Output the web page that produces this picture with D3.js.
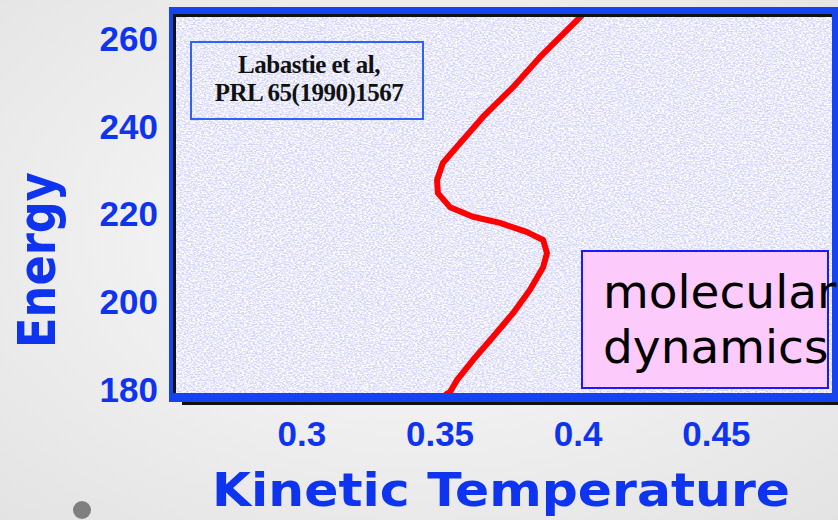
<!DOCTYPE html>
<html><head><meta charset="utf-8">
<script src="https://cdn.jsdelivr.net/npm/d3@7"></script>
<style>html,body{margin:0;padding:0;overflow:hidden;background:#f2f2f2}</style>
</head><body><svg id="c" width="838" height="520"></svg>
<script>
// ---- data ----
const energyTicks = [180, 200, 220, 240, 260];
const tempTicks = [0.3, 0.35, 0.4, 0.45];
const tempTickLabels = ["0.3", "0.35", "0.4", "0.45"];
const energy   = [265.5, 264.4, 260.5, 256.0, 249.1, 242.3, 236.3, 231.8, 227.9, 224.9, 221.7, 219.5, 218.1, 216.0, 214.2, 211.2, 208.0, 202.8, 197.5, 192.1, 186.8, 182.2, 179.5, 179.0];
const kineticT = [0.4015, 0.3998, 0.3936, 0.3864, 0.3766, 0.3657, 0.3574, 0.3512, 0.3491, 0.3494, 0.3538, 0.3621, 0.3719, 0.3817, 0.3875, 0.3889, 0.3875, 0.3827, 0.3766, 0.3694, 0.3621, 0.3563, 0.3538, 0.3525];
const legendLines = ["Labastie et al,", "PRL 65(1990)1567"];
const noteLines = ["molecular", "dynamics"];
const xTitle = "Kinetic Temperature";
const yTitle = "Energy";

// ---- layout ----
const svg = d3.select("#c");
const inner = {x0: 176, x1: 832, y0: 17, y1: 393};
const x = d3.scaleLinear().domain([0.25, 0.5]).range([163.25, 853.95]);
const y = d3.scaleLinear().domain([180, 260]).range([389.8, 39.4]);
const blue = "#1444f2";
const txtBlue = "#0f34f0";

const defs = svg.append("defs");
const rg = defs.append("radialGradient").attr("id", "bg").attr("cx", "50%").attr("cy", "45%").attr("r", "75%");
rg.append("stop").attr("offset", "0%").attr("stop-color", "#fbfbfb");
rg.append("stop").attr("offset", "100%").attr("stop-color", "#e3e3e3");

const f = defs.append("filter").attr("id", "speck").attr("x", 0).attr("y", 0).attr("width", 1).attr("height", 1);
f.append("feTurbulence").attr("type", "fractalNoise").attr("baseFrequency", "0.45 0.7").attr("numOctaves", 2).attr("seed", 7).attr("result", "n");
f.append("feColorMatrix").attr("in", "n").attr("type", "matrix")
  .attr("values", "0 0 0 0 1  0 0 0 0 1  0 0 0 0 1  3 0 0 0 -1.0");

defs.append("clipPath").attr("id", "clip").append("rect")
  .attr("x", inner.x0).attr("y", inner.y0).attr("width", inner.x1 - inner.x0).attr("height", inner.y1 - inner.y0);

svg.append("rect").attr("width", 838).attr("height", 520).attr("fill", "url(#bg)");

// frame
svg.append("rect").attr("x", 169).attr("y", 7).attr("width", 680).attr("height", 395).attr("fill", blue);
svg.append("rect").attr("x", 182).attr("y", 402).attr("width", 660).attr("height", 3).attr("fill", "#111");
svg.append("rect").attr("x", inner.x0).attr("y", inner.y0).attr("width", inner.x1 - inner.x0).attr("height", inner.y1 - inner.y0).attr("fill", "#d3d4f8");
svg.append("rect").attr("x", inner.x0).attr("y", inner.y0).attr("width", inner.x1 - inner.x0).attr("height", inner.y1 - inner.y0).attr("fill", "#fff").attr("filter", "url(#speck)");
svg.append("rect").attr("x", 173).attr("y", 14).attr("width", inner.x1 - 173).attr("height", 3).attr("fill", "#111");
svg.append("rect").attr("x", 173).attr("y", 14).attr("width", 3).attr("height", inner.y1 - 14).attr("fill", "#111");

// legend box
svg.append("rect").attr("x", 191).attr("y", 42).attr("width", 232).attr("height", 77)
  .attr("fill", "none").attr("stroke", "#2f62f5").attr("stroke-width", 2);
svg.append("g").selectAll("text").data(legendLines).join("text")
  .attr("x", 309).attr("y", (d, i) => 73 + i * 28)
  .attr("text-anchor", "middle")
  .attr("font-family", "Liberation Serif").attr("font-weight", "bold").attr("font-size", 25)
  .attr("letter-spacing", -0.5)
  .attr("fill", "#111").text(d => d);

// curve
const line = d3.line().x((d, i) => x(kineticT[i])).y(d => y(d));
svg.append("path").datum(energy).attr("clip-path", "url(#clip)")
  .attr("d", line).attr("fill", "none").attr("stroke", "#ff0000")
  .attr("stroke-width", 6).attr("stroke-linejoin", "round").attr("stroke-linecap", "round");

// note box
svg.append("rect").attr("x", 582).attr("y", 251).attr("width", 246).attr("height", 137)
  .attr("fill", "#fccbfc").attr("stroke", "#1a1aff").attr("stroke-width", 2);
svg.append("g").selectAll("text").data(noteLines).join("text")
  .attr("x", 603).attr("y", (d, i) => 308 + i * 55)
  .attr("font-family", "DejaVu Sans").attr("font-size", 47)
  .attr("fill", "#000").text(d => d);

// axes
const yAxis = d3.axisLeft(y).tickValues(energyTicks).tickSize(0).tickPadding(12).tickFormat(d3.format("d"));
const gy = svg.append("g").attr("transform", "translate(170,0)").call(yAxis);
const xAxis = d3.axisBottom(x).tickValues(tempTicks).tickSize(0).tickPadding(16).tickFormat((d, i) => tempTickLabels[i]);
const gx = svg.append("g").attr("transform", "translate(0,405)").call(xAxis);
[gx, gy].forEach(g => {
  g.select(".domain").remove();
  g.selectAll("text").attr("font-family", "Liberation Sans").attr("font-weight", "bold")
    .attr("font-size", 35).attr("fill", txtBlue);
});

// titles
svg.append("text").attr("x", 212).attr("y", 506).attr("textLength", 578).attr("lengthAdjust", "spacingAndGlyphs")
  .attr("font-family", "DejaVu Sans").attr("font-weight", "bold").attr("font-size", 46)
  .attr("fill", txtBlue).text(xTitle);
svg.append("text").attr("transform", "translate(55,348) rotate(-90)")
  .attr("textLength", 176).attr("lengthAdjust", "spacingAndGlyphs")
  .attr("font-family", "DejaVu Sans").attr("font-weight", "bold").attr("font-size", 52)
  .attr("fill", txtBlue).text(yTitle);

// bullet
svg.append("circle").attr("cx", 82).attr("cy", 510).attr("r", 9).attr("fill", "#7f7f7f");
</script></body></html>
